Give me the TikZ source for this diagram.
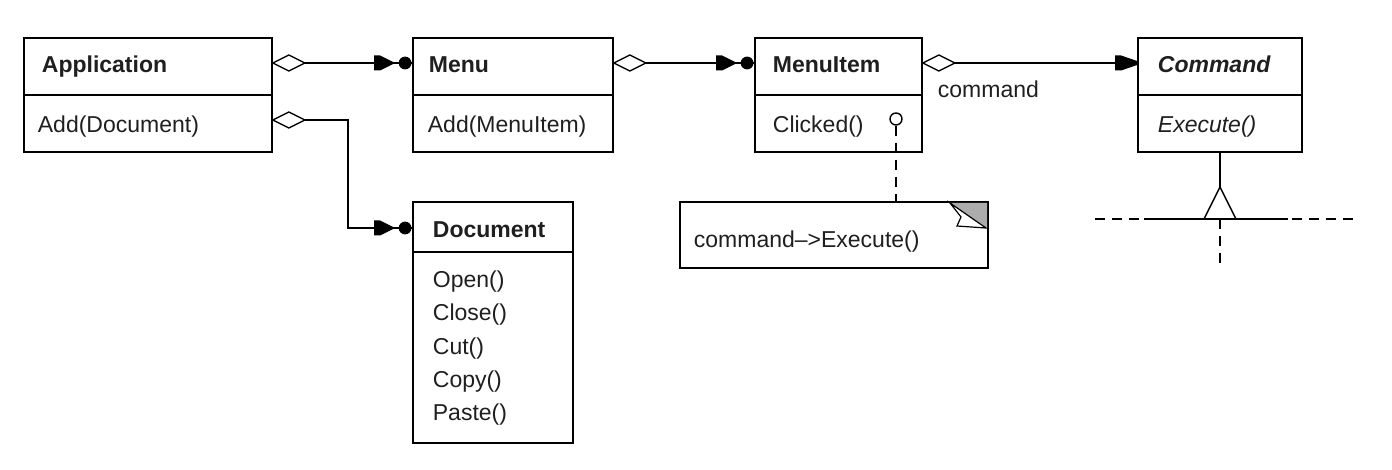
\documentclass[tikz,border=0pt]{standalone}
\usepackage{fontspec}
\setmainfont{Liberation Sans}
\usetikzlibrary{fit}
\begin{document}
\begin{tikzpicture}[x=0.5pt,y=-0.5pt, line width=0.9pt,
  box/.style={draw, inner sep=0pt},
  lbl/.style={anchor=base west, inner sep=0pt, text=black!88, font=\fontsize{11.5}{14}\selectfont},
  bname/.style={lbl, font=\fontsize{11.5}{14}\selectfont\bfseries},
  diam/.pic={\draw[fill=white, line width=0.7pt] (0,0) -- (16,-8) -- (32,0) -- (16,8) -- cycle;},
  navdot/.pic={\fill (-38,-7.5) -- (-32,-7.5) -- (-19,-1) -- (-19,1) -- (-32,7.5) -- (-38,7.5) -- cycle;
               \fill (-7,0) circle[radius=3.2pt];},
  nav/.pic={\fill (-22,-7.5) -- (-16,-7.5) -- (0,-2) -- (0,2) -- (-16,7.5) -- (-22,7.5) -- cycle;},
  dsh/.style={dash pattern=on 5pt off 3.5pt}]
\useasboundingbox (0,0) rectangle (1392,470);

% classes
\node[box, fit={(24,38)(272,152)}] (app) {};
\draw (app.west |- 0,95) -- (app.east |- 0,95);
\node[bname] (appn) at (41,73) {Application};
\node[lbl] (appm) at (37,133) {Add(Document)};

\node[box, fit={(413,38)(613,152)}] (menu) {};
\draw (menu.west |- 0,95) -- (menu.east |- 0,95);
\node[bname] (menun) at (428,73) {Menu};
\node[lbl] (menum) at (427,133) {Add(MenuItem)};

\node[box, fit={(755,38)(922,152)}] (item) {};
\draw (item.west |- 0,95) -- (item.east |- 0,95);
\node[bname] (itemn) at (772,73) {MenuItem};
\node[lbl] (itemm) at (772,133) {Clicked()};

\node[box, fit={(1138,38)(1302,152)}] (cmd) {};
\draw (cmd.west |- 0,95) -- (cmd.east |- 0,95);
\node[bname, font=\fontsize{11.5}{14}\selectfont\bfseries\itshape] (cmdn) at (1157,73) {Command};
\node[lbl, font=\fontsize{11.5}{14}\selectfont\itshape] (cmdm) at (1157,133) {Execute()};

\node[box, fit={(413,202)(573,443)}] (doc) {};
\draw (doc.west |- 0,252) -- (doc.east |- 0,252);
\node[bname] (docn) at (432,238) {Document};
\node[lbl] (d1) at (432,287) {Open()};
\node[lbl] (d2) at (432,321) {Close()};
\node[lbl] (d3) at (432,354) {Cut()};
\node[lbl] (d4) at (432,387) {Copy()};
\node[lbl] (d5) at (432,420) {Paste()};

% note
\node[box, fit={(680,202)(988,268)}] (note) {};
\fill[gray!65] (950,203) -- (987,203) -- (987,228) -- cycle;
\draw[fill=white, line width=0.6pt] (950,203) -- (961,217) -- (957,226) -- (986,228) -- cycle;
\node[lbl] (notet) at (693,248) {command–>Execute()};

% associations
\draw (app.east |- 0,63) -- (menu.west |- 0,63);
\pic at (app.east |- 0,63) {diam};
\pic at (menu.west |- 0,63) {navdot};

\coordinate (bend) at (348,120);
\draw (app.east |- 0,120) -- (bend) |- (doc.west |- 0,228);
\pic at (app.east |- 0,120) {diam};
\pic at (doc.west |- 0,228) {navdot};

\draw (menu.east |- 0,63) -- (item.west |- 0,63);
\pic at (menu.east |- 0,63) {diam};
\pic at (item.west |- 0,63) {navdot};

\draw (item.east |- 0,63) -- (cmd.west |- 0,63);
\pic at (item.east |- 0,63) {diam};
\pic at (cmd.west |- 0,63) {nav};
\node[lbl] (cmdlbl) at (937,98) {command};

% clicked note link
\node[circle, draw, line width=0.7pt, minimum size=6pt, inner sep=0pt] (cl) at (896,119) {};
\draw[dsh, line width=0.8pt] (cl.south) -- (cl.south |- note.north);

% inheritance
\coordinate (apex) at (1220,187);
\coordinate (base) at (1220,219);
\coordinate (hl) at (1095,219);
\coordinate (hr) at (1355,219);
\coordinate (vb) at (1220,263);
\draw (cmd.south) -- (apex);
\draw[line width=0.7pt] (apex) -- (1236,219) -- (1204,219) -- cycle;
\draw (1144,219) -- (1288,219);
\draw[dsh] (hl) -- (1144,219);
\draw[dsh] (1292,219) -- (hr);
\draw[dsh] (base) -- (vb);
\end{tikzpicture}
\end{document}
